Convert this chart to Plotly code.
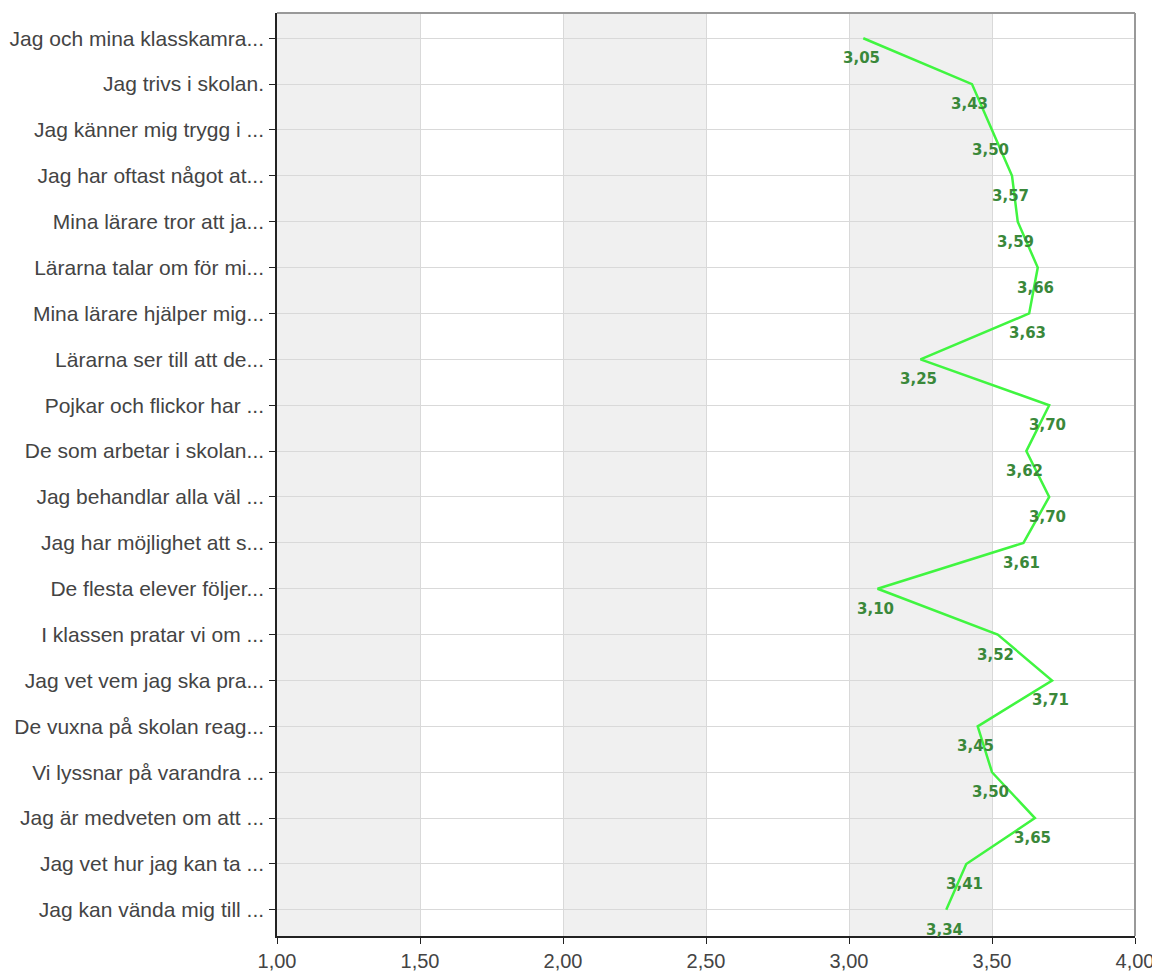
import plotly.graph_objects as go

categories = [
    "Jag och mina klasskamra...",
    "Jag trivs i skolan.",
    "Jag känner mig trygg i ...",
    "Jag har oftast något at...",
    "Mina lärare tror att ja...",
    "Lärarna talar om för mi...",
    "Mina lärare hjälper mig...",
    "Lärarna ser till att de...",
    "Pojkar och flickor har ...",
    "De som arbetar i skolan...",
    "Jag behandlar alla väl ...",
    "Jag har möjlighet att s...",
    "De flesta elever följer...",
    "I klassen pratar vi om ...",
    "Jag vet vem jag ska pra...",
    "De vuxna på skolan reag...",
    "Vi lyssnar på varandra ...",
    "Jag är medveten om att ...",
    "Jag vet hur jag kan ta ...",
    "Jag kan vända mig till ...",
]
values = [3.05, 3.43, 3.50, 3.57, 3.59, 3.66, 3.63, 3.25, 3.70, 3.62,
          3.70, 3.61, 3.10, 3.52, 3.71, 3.45, 3.50, 3.65, 3.41, 3.34]
x_ticks = [1.0, 1.5, 2.0, 2.5, 3.0, 3.5, 4.0]

fig = go.Figure()

# alternating bands
for i in range(0, len(x_ticks) - 1, 2):
    fig.add_shape(type="rect", xref="x", yref="paper",
                  x0=x_ticks[i], x1=x_ticks[i + 1], y0=0, y1=1,
                  fillcolor="#f0f0f0", line_width=0, layer="below")

fig.add_trace(go.Scatter(
    x=values, y=categories, mode="lines",
    line=dict(color="#40f540", width=2.5),
    hoverinfo="x+y",
))

for c, v in zip(categories, values):
    fig.add_annotation(x=v, y=c, text=f"{v:.2f}".replace(".", ","),
                       showarrow=False, xshift=-2, yshift=-20,
                       font=dict(family="DejaVu Sans", size=15, color="#3a883a", weight="bold"))

# top/right border
fig.add_shape(type="line", xref="paper", yref="paper", x0=0, x1=1, y0=1, y1=1,
              line=dict(color="#999999", width=2))
fig.add_shape(type="line", xref="paper", yref="paper", x0=1, x1=1, y0=0, y1=1,
              line=dict(color="#999999", width=2))

fig.update_layout(
    width=1152, height=963,
    margin=dict(l=269, r=25, t=5, b=35),
    plot_bgcolor="white", paper_bgcolor="white",
    separators=", ",
    showlegend=False,
    font=dict(family="Liberation Sans, Arial", size=21, color="#444444"),
    xaxis=dict(range=[1, 4], tickvals=x_ticks, tickformat=".2f",
               automargin=False,
               showgrid=True, gridcolor="#d9d9d9", gridwidth=1,
               showline=True, linecolor="#222222", linewidth=1.5,
               ticks="outside", ticklen=6, tickcolor="#222222",
               zeroline=False, tickfont=dict(size=20, color="#444444")),
    yaxis=dict(categoryorder="array", categoryarray=categories,
               range=[19.57, -0.55], automargin=False,
               showgrid=True, gridcolor="#d9d9d9", gridwidth=1,
               showline=True, linecolor="#222222", linewidth=1.5,
               ticks="outside", ticklen=6, tickcolor="#222222",
               zeroline=False, tickfont=dict(size=21, color="#444444"),
               ticklabelstandoff=1),
)

fig.write_html("out.html")
